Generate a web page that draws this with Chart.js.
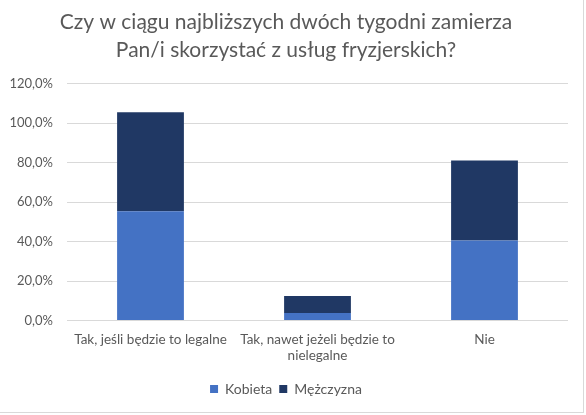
<!DOCTYPE html>
<html>
<head>
<meta charset="utf-8">
<script src="https://cdn.jsdelivr.net/npm/chart.js@4"></script>
<style>
    html, body { margin: 0; padding: 0; background: #fff; }
    #wrap {
        position: relative;
        width: 583px;
        height: 412px;
        border-right: 1px solid #d9d9d9;
        border-bottom: 1px solid #d9d9d9;
    }
</style>
</head>
<body>
<div id="wrap"><canvas id="myChart"></canvas></div>
<script>
const categories = [
    'Tak, jeśli będzie to legalne',
    ['Tak, nawet jeżeli będzie to', 'nielegalne'],
    'Nie'
];
const kobieta = [55.4, 3.9, 40.5];
const mezczyzna = [50.1, 8.5, 40.6];
const yTicks = [0, 20, 40, 60, 80, 100, 120];

const fontName = "Lato, 'Open Sans', sans-serif";
const grey = '#595959';

function pct (v) {
    return v.toFixed(1).replace('.', ',') + '%';
}

var ctx = document.getElementById('myChart');
var myChart = new Chart(ctx, {
    type: 'bar',
    data: {
        labels: categories,
        datasets: [{
            label: 'Kobieta',
            data: kobieta,
            backgroundColor: '#4472C4',
            barPercentage: 0.4,
            categoryPercentage: 1.0
        },
        {
            label: 'Mężczyzna',
            data: mezczyzna,
            backgroundColor: '#203864',
            barPercentage: 0.4,
            categoryPercentage: 1.0
        }]
    },
    options: {
        responsive: true,
        maintainAspectRatio: false,
        animation: false,
        layout: {
            padding: { left: 4, right: 15, top: 0, bottom: 6 }
        },
        plugins: {
            title: {
                display: true,
                text: ['Czy w ciągu najbliższych dwóch tygodni zamierza', 'Pan/i skorzystać z usług fryzjerskich?'],
                color: grey,
                font: { family: fontName, size: 21, weight: 'normal', lineHeight: 1.3 },
                padding: { top: 9, bottom: 20 }
            },
            legend: {
                position: 'bottom',
                labels: {
                    color: grey,
                    font: { family: fontName, size: 14 },
                    boxWidth: 8,
                    boxHeight: 8,
                    padding: 7
                }
            },
            tooltip: { enabled: false }
        },
        scales: {
            x: {
                stacked: true,
                grid: { display: false, drawTicks: false },
                border: { display: false },
                ticks: {
                    color: grey,
                    font: { family: fontName, size: 13.5 },
                    maxRotation: 0,
                    autoSkip: false,
                    padding: 11
                }
            },
            y: {
                stacked: true,
                min: 0,
                max: 120,
                afterBuildTicks: function (scale) {
                    scale.ticks = yTicks.map(v => ({ value: v }));
                },
                afterFit: function (scale) {
                    scale.width = 63;
                },
                grid: { color: '#d9d9d9', drawTicks: false },
                border: { display: false },
                ticks: {
                    color: grey,
                    font: { family: fontName, size: 13 },
                    padding: 14,
                    callback: function (v) { return pct(v); }
                }
            }
        }
    }
});
</script>
</body>
</html>
